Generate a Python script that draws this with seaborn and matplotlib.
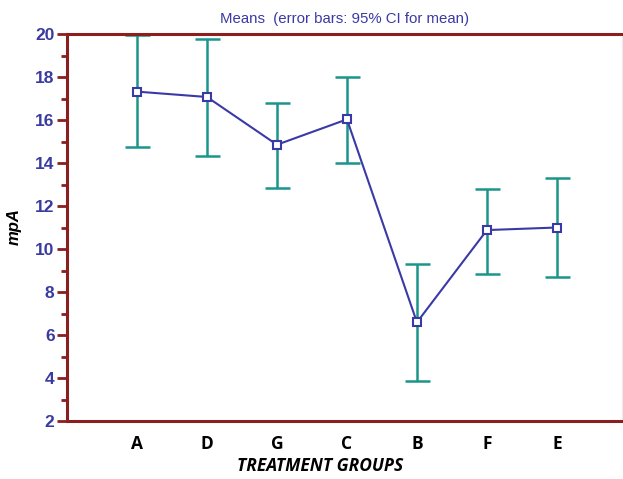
import matplotlib
matplotlib.use("Agg")
import matplotlib.pyplot as plt
from matplotlib.ticker import MultipleLocator
import seaborn as sns
import pandas as pd

groups = ["A", "D", "G", "C", "B", "F", "E"]
means = [17.32, 17.07, 14.85, 16.03, 6.59, 10.88, 11.00]
ci_low = [14.73, 14.34, 12.85, 14.00, 3.86, 8.85, 8.71]
ci_high = [19.97, 19.75, 16.80, 17.99, 9.32, 12.80, 13.29]

sns.set_style("white")
plt.rcParams["font.family"] = ["Liberation Sans", "DejaVu Sans"]

axis_red = "#8b1e1e"
blue = "#3a3aa6"
teal = "#1a958a"

df = pd.DataFrame({"group": groups, "mean": means})
pos = list(range(len(groups)))
df["pos"] = pos

fig = plt.figure(figsize=(6.23, 4.79), dpi=100)
ax = fig.add_axes([67 / 623, 1 - 421 / 479, (622 - 67) / 623, (421 - 34) / 479])

lower_err = [m - l for m, l in zip(means, ci_low)]
upper_err = [h - m for m, h in zip(means, ci_high)]
ax.errorbar(pos, means, yerr=[lower_err, upper_err], fmt="none", ecolor=teal,
            elinewidth=1.8, capsize=9, capthick=1.8, zorder=2)

sns.lineplot(data=df, x="pos", y="mean", ax=ax, color=blue, linewidth=1.5,
             marker="s", markersize=6, markerfacecolor="white",
             markeredgecolor=blue, markeredgewidth=1.5, zorder=3)

ax.set_xlim(-1, 6.93)
ax.set_ylim(2, 20)
ax.set_xticks(pos)
ax.set_xticklabels(groups, fontsize=12.5, fontweight="bold", color="black",
                   family=["Open Sans", "DejaVu Sans"])
ax.yaxis.set_major_locator(MultipleLocator(2))
ax.yaxis.set_minor_locator(MultipleLocator(1))
ax.tick_params(axis="y", which="major", direction="out", length=7, width=2,
               color=axis_red, labelsize=12.5, labelcolor="#3a3aa0", pad=2, left=True)
ax.tick_params(axis="y", which="minor", direction="out", length=4.5, width=2,
               color=axis_red, left=True)
ax.tick_params(axis="x", which="both", length=0, pad=10)
for lbl in ax.get_yticklabels():
    lbl.set_fontweight("bold")

for side in ["left", "top", "bottom"]:
    ax.spines[side].set_color(axis_red)
    ax.spines[side].set_linewidth(2.2)
ax.spines["right"].set_color("#eeeeee")
ax.spines["right"].set_linewidth(1)

ax.set_xlabel("TREATMENT GROUPS", fontsize=12.5, fontweight="bold", fontstyle="italic",
              color="black", family=["Open Sans", "DejaVu Sans"])
ax.xaxis.set_label_coords((320 - 67) / 555, -(466 - 421) / 387, transform=ax.transAxes)
ax.xaxis.label.set_verticalalignment("center")
ax.set_ylabel("mpA", fontsize=12, fontweight="bold", fontstyle="italic",
              color="black")
ax.yaxis.set_label_coords(-(67 - 14) / 555, (421 - 227) / 387, transform=ax.transAxes)
ax.yaxis.label.set_verticalalignment("center")
ax.set_title("Means  (error bars: 95% CI for mean)", fontsize=10.8, color=blue, pad=8)

fig.savefig("out.png", dpi=100)
